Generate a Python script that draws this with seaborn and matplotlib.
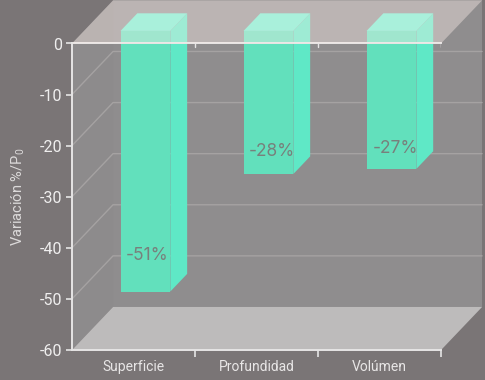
import matplotlib
matplotlib.use("Agg")
import matplotlib.pyplot as plt
import seaborn as sns
from matplotlib.patches import Polygon

categorias = ["Superficie", "Profundidad", "Volúmen"]
valores = [-51, -28, -27]
marcas_y = [0, -10, -20, -30, -40, -50, -60]
# posicion de cada etiqueta respecto al pie de la barra
subida_etiqueta = [7, 4.5, 4]
corrimiento_etiqueta = [0.01, 0.03, 0.03]

sns.set_theme(style="white")
plt.rcParams["font.family"] = ["Roboto", "DejaVu Sans"]
plt.rcParams["mathtext.default"] = "regular"

FONDO = "#7a7576"
PARED = "#8f8d8e"
LATERAL = "#8d8b8c"
SUELO = "#bdbbbb"
LINEA = "#e6e5e5"
REJILLA = "#a5a2a2"

fig = plt.figure(figsize=(4.851, 3.801), dpi=100, facecolor=FONDO)
ax = fig.add_axes([72 / 485, 30 / 380, 369 / 485, 306.5 / 380])
ax.patch.set_alpha(0)

# barras frontales con seaborn
sns.barplot(x=categorias, y=valores, ax=ax, color="#62e0bc", saturation=1, width=0.405, zorder=5, linewidth=0)
ax.set_xlim(-0.5, 2.5)
ax.set_ylim(-60, 0)

# profundidad de la caja 3D en unidades de datos
DX = 1 / 3
DY = 8.42
izq, der = -0.5, 2.5


def cara(puntos, color, z, alpha=1):
    ax.add_patch(Polygon(puntos, closed=True, fc=color, ec="none", lw=0, alpha=alpha, zorder=z, clip_on=False))


# paredes, suelo y techo
cara([(izq + DX, DY), (der + DX, DY), (der + DX, -60 + DY), (izq + DX, -60 + DY)], PARED, 1)
cara([(izq, 0), (izq + DX, DY), (izq + DX, -60 + DY), (izq, -60)], LATERAL, 1)
cara([(izq, -60), (der, -60), (der + DX, -60 + DY), (izq + DX, -60 + DY)], SUELO, 2)
cara([(izq, 0), (der, 0), (der + DX, DY), (izq + DX, DY)], "#fff0eb", 8, alpha=0.4)

for m in marcas_y[1:-1]:
    ax.plot([izq, izq + DX, der + DX], [m, m + DY, m + DY], color=REJILLA, lw=1, zorder=3, clip_on=False)

# caras de cada barra
f1, f2 = 0.29, 0.70
for rect, v, sube, corre in zip(list(ax.patches)[:3], valores, subida_etiqueta, corrimiento_etiqueta):
    x0 = rect.get_x() + f1 * DX
    ancho = rect.get_width()
    rect.set_x(x0)
    rect.set_y(f1 * DY)
    rect.set_height(v)
    rect.set_clip_on(False)
    x1 = x0 + ancho
    base = v + f1 * DY
    techo = f1 * DY
    d = (f2 - f1)
    cara([(x1, techo), (x1 + d * DX, techo + d * DY), (x1 + d * DX, base + d * DY), (x1, base)], "#5fe8c6", 5)
    cara([(x0, techo), (x1, techo), (x1 + d * DX, techo + d * DY), (x0 + d * DX, techo + d * DY)], "#70f0d2", 5)
    ax.text(x0 + ancho / 2 + corre, base + sube, f"{v}%", color="#78807c", fontsize=12.5, ha="center",
            va="center", family=["Inter", "DejaVu Sans"], zorder=9)

# ejes
sns.despine(ax=ax, right=True, top=False)
for lado in ["left", "bottom", "top"]:
    ax.spines[lado].set_color(LINEA)
    ax.spines[lado].set_linewidth(1.4)
    ax.spines[lado].set_zorder(7)
ax.set_yticks(marcas_y)
ax.set_yticklabels([str(m) for m in marcas_y])
ax.set_xticks([0, 1, 2])
ax.set_xticks([0.5, 1.5, 2.5], minor=True)
ax.tick_params(axis="x", which="major", length=0, pad=7, labelsize=10, labelcolor="#e8e6e6")
ax.tick_params(axis="x", which="minor", bottom=True, length=5, width=1.2, color=LINEA, direction="out")
ax.tick_params(axis="y", left=True, length=4, width=1.2, color=LINEA, pad=3, labelsize=11.5, labelcolor="#efeeee")
for b in [0.5, 1.5, 2.5]:
    ax.plot([b, b], [0, -0.8], color=LINEA, lw=1, zorder=7)

ax.set_xlabel("")
ax.set_ylabel("")
fig.text(18 / 485, 1 - 197 / 380, "Variación %/P$_0$", rotation=90, color="#dcdada", fontsize=10.5, ha="center",
         va="center")

plt.savefig("out.png", dpi=100, facecolor=FONDO)
